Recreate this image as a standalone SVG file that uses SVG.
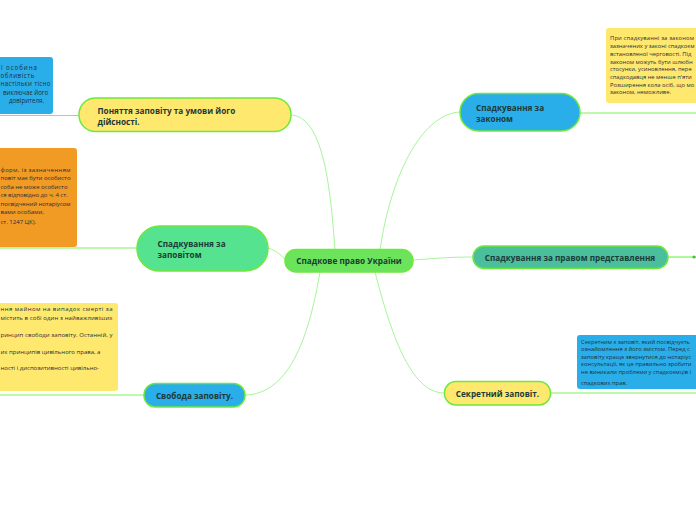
<svg xmlns="http://www.w3.org/2000/svg" width="696" height="520" viewBox="0 0 696 520">
<style>
.nt{font-family:"Open Sans","Noto Sans",sans-serif;font-size:8.2px;font-weight:700;fill:#1c3a38}
.tx{font-family:"Open Sans","Noto Sans",sans-serif;font-size:6px;fill:#1f2f3a}
.tl{font-family:"Open Sans","Noto Sans",sans-serif;font-size:6.2px;fill:#1f2f3a}
.tr{font-family:"Open Sans","Noto Sans",sans-serif;font-size:5.8px;fill:#1f2f3a}
.node{stroke:#6ee83c;stroke-width:1.5}
.conn{fill:none;stroke:#a6f59a;stroke-width:1}
.lead{fill:none;stroke:#7ef25a;stroke-width:1.2}
</style>
<rect width="696" height="520" fill="#ffffff"/>
<g id="connectors">
<path class="conn" d="M335 250 C330 180 322 117 291 115"/>
<path class="conn" d="M380 250 C390 180 420 114 460 112"/>
<path class="conn" d="M286 260 C280 254 275 250 268 248"/>
<path class="conn" d="M413 260 C440 258 450 257 473 257"/>
<path class="conn" d="M320 272 C310 330 292 394 245 395"/>
<path class="conn" d="M375 272 C390 330 410 393 444 393"/>
<path class="lead" d="M79 115.5 H0"/>
<path class="lead" d="M580 113 H696"/>
<path class="lead" d="M137 248 H0"/>
<path class="lead" d="M668 257 H696"/>
<circle cx="694" cy="257" r="1.6" fill="#4fbf3a"/>
<path class="lead" d="M144 395 H0"/>
<path class="lead" d="M550 393 H696"/>
</g>
<g id="note-ponyattya">
<rect x="-5" y="57" width="58" height="57" rx="3" fill="#2aaeea"/>
<text class="tl" x="1" y="70" textLength="36" lengthAdjust="spacing">ї особина</text>
<text class="tl" x="0.5" y="78" textLength="34" lengthAdjust="spacing">обливість</text>
<text class="tl" x="0.5" y="86.3" textLength="50" lengthAdjust="spacing">настільки тісно</text>
<text class="tl" x="3" y="94.5">виключає його</text>
<text class="tl" x="9" y="103">довірителя.</text>
</g>
<g id="note-zapovit">
<rect x="-5" y="148" width="82" height="99" rx="3" fill="#f19b25"/>
<text class="tx" x="0.5" y="172" textLength="70" lengthAdjust="spacing">форм, із зазначенням</text>
<text class="tx" x="0.5" y="180" textLength="70" lengthAdjust="spacing">повіт має бути особисто</text>
<text class="tx" x="0.5" y="188.5" textLength="67" lengthAdjust="spacing">соба не може особисто</text>
<text class="tx" x="0.5" y="196.5" textLength="67" lengthAdjust="spacing">ся відповідно до ч. 4 ст.</text>
<text class="tx" x="0.5" y="206" textLength="70" lengthAdjust="spacing">посвідчений нотаріусом</text>
<text class="tx" x="0.5" y="214">вами особами,</text>
<text class="tx" x="0.5" y="224">ст. 1247 ЦК).</text>
</g>
<g id="note-svoboda">
<rect x="-5" y="303" width="123" height="88" rx="3" fill="#ffe86e"/>
<text class="tx" x="0.5" y="311" textLength="112" lengthAdjust="spacing">ння майном на випадок смерті за</text>
<text class="tx" x="0.5" y="319.5" textLength="112" lengthAdjust="spacing">містить в собі один з найважливіших</text>
<text class="tx" x="0.5" y="337" textLength="112" lengthAdjust="spacing">ринцип свободи заповіту. Останній, у</text>
<text class="tx" x="0.5" y="354">их принципів цивільного права, а</text>
<text class="tx" x="0.5" y="370">ності і диспозитивності цивільно-</text>
</g>
<g id="note-zakon">
<rect x="606" y="28" width="95" height="75" rx="3" fill="#ffe86e"/>
<text class="tr" x="610" y="40" textLength="84" lengthAdjust="spacing">При спадкуванні за законом</text>
<text class="tr" x="610" y="48">зазначених у законі спадкоєм</text>
<text class="tr" x="610" y="55.8">встановленої черговості. Під</text>
<text class="tr" x="610" y="63.5">законом можуть бути шлюбн</text>
<text class="tr" x="610" y="71.2">стосунки, усиновлення, пере</text>
<text class="tr" x="610" y="78.8">спадкодавця не менше п'яти</text>
<text class="tr" x="610" y="86.5">Розширення кола осіб, що мо</text>
<text class="tr" x="610" y="94.2">законом, неможливе.</text>
</g>
<g id="note-sekretnyi">
<rect x="577" y="335" width="124" height="54" rx="3" fill="#2aaeea"/>
<text class="tr" x="581" y="343.5">Секретним є заповіт, який посвідчуєть</text>
<text class="tr" x="581" y="351">ознайомлення з його змістом. Перед с</text>
<text class="tr" x="581" y="358.5">заповіту краще звернутися до нотаріус</text>
<text class="tr" x="581" y="366">консультації, як це правильно зробити</text>
<text class="tr" x="581" y="373.5">не виникали проблеми у спадкоємців і</text>
<text class="tr" x="581" y="385">спадкових прав.</text>
</g>
<g id="node-center">
<rect class="node" x="285" y="249.5" width="128" height="22.5" rx="11" fill="#6be35a"/>
<text class="nt" x="349" y="264" text-anchor="middle">Спадкове право України</text>
</g>
<g id="node-ponyattya">
<rect class="node" x="79" y="98" width="212" height="33.5" rx="16.5" fill="#ffe86e"/>
<text class="nt"><tspan x="97.5" y="113.5">Поняття заповіту та умови його</tspan><tspan x="97.5" y="125">дійсності.</tspan></text>
</g>
<g id="node-zapovit">
<rect class="node" x="137" y="226" width="131" height="45" rx="22.5" fill="#55e38f"/>
<text class="nt"><tspan x="157.5" y="247">Спадкування за</tspan><tspan x="157.5" y="258">заповітом</tspan></text>
</g>
<g id="node-zakon">
<rect class="node" x="460" y="93.5" width="120" height="37.5" rx="18.5" fill="#2aaeea"/>
<text class="nt"><tspan x="476" y="111">Спадкування за</tspan><tspan x="476" y="122">законом</tspan></text>
</g>
<g id="node-predstavlennya">
<rect class="node" x="473" y="246" width="195" height="22.5" rx="11" fill="#4bbe9c"/>
<text class="nt" x="570" y="260.5" text-anchor="middle">Спадкування за правом представлення</text>
</g>
<g id="node-svoboda">
<rect class="node" x="144" y="383.5" width="101" height="23.5" rx="11.5" fill="#2aaeea"/>
<text class="nt" x="194.5" y="398.5" text-anchor="middle">Свобода заповіту.</text>
</g>
<g id="node-sekretnyi">
<rect class="node" x="444.5" y="381.5" width="106" height="23.5" rx="11.5" fill="#ffe86e"/>
<text class="nt" x="497.5" y="396.5" text-anchor="middle">Секретний заповіт.</text>
</g>
</svg>
